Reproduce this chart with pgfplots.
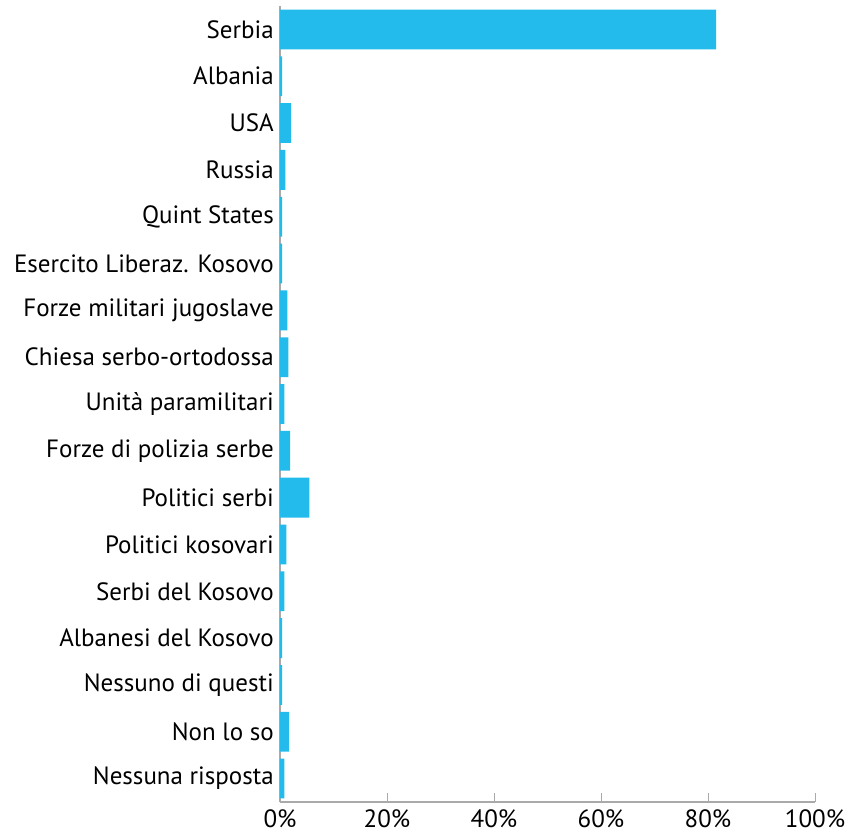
\documentclass[border=0pt]{standalone}
\usepackage{fontspec}
\setmainfont{PT Sans}
\usepackage{pgfplots}
\pgfplotsset{compat=1.18}
\definecolor{barblue}{RGB}{35,187,236}
\definecolor{axgray}{RGB}{170,170,170}
\begin{document}
\begin{tikzpicture}
\begin{axis}[
  name=ax,
  scale only axis, width=535pt, height=796pt,
  xmin=0, xmax=100, ymin=-0.5, ymax=16.5,
  xbar, bar width=0.85, bar shift=0pt,
  axis lines*=left,
  axis line style={axgray, line width=1.2pt},
  xtick={0,20,...,100},
  xticklabel={\pgfmathprintnumber{\tick}\%},
  xtick style={axgray, line width=1pt},
  tick align=inside, major tick length=9pt,
  ytick={0,...,16},
  yticklabels={Nessuna risposta,Non lo so,Nessuno di questi,Albanesi del Kosovo,Serbi del Kosovo,Politici kosovari,Politici serbi,Forze di polizia serbe,Unità paramilitari,Chiesa serbo-ortodossa,Forze militari jugoslave,Esercito Liberaz. Kosovo,Quint States,Russia,USA,Albania,Serbia},
  ytick style={draw=none},
  tick label style={font=\fontsize{25}{29}\selectfont, text=black},
  /pgf/number format/assume math mode=true,
  yticklabel style={inner xsep=6pt},
  xticklabel style={inner ysep=1pt, yshift=-6pt},
]
\addplot[fill=barblue, draw=none] coordinates {
(0.8,0) (1.7,1) (0.4,2) (0.4,3) (0.8,4) (1.2,5) (5.5,6) (1.9,7) (0.8,8) (1.55,9) (1.4,10) (0.4,11) (0.4,12) (1.0,13) (2.1,14) (0.4,15) (81.5,16)
};
\end{axis}
\pgfresetboundingbox
\path ([shift={(-280pt,-31pt)}]ax.south west) rectangle ([shift={(35pt,802pt)}]ax.south east);
\end{tikzpicture}
\end{document}
